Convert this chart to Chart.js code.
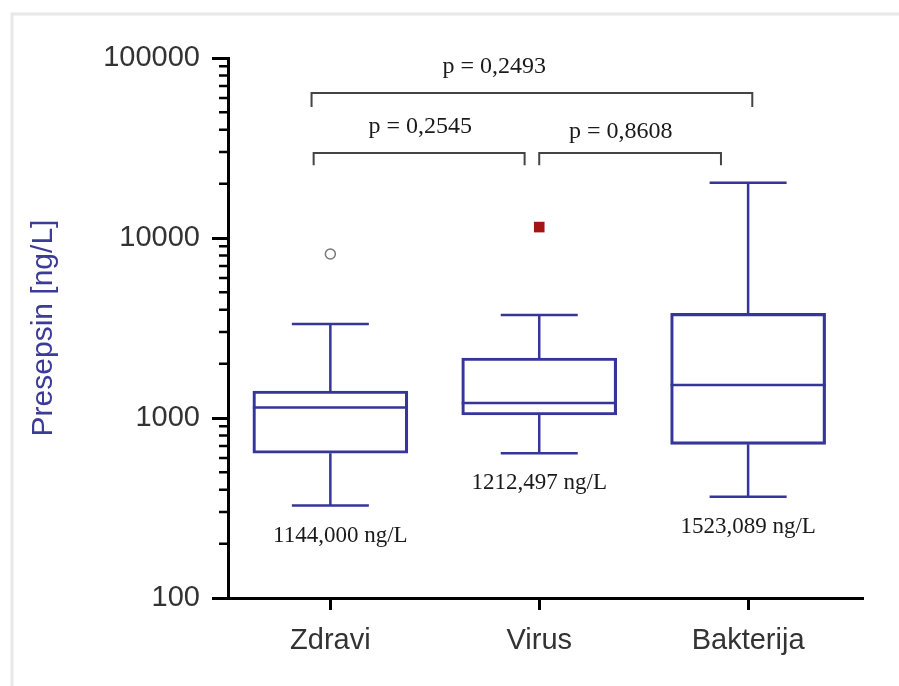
<!DOCTYPE html>
<html lang="sr">

<head>
    <meta charset="UTF-8" />
    <title>Presepsin</title>
    <script src="https://cdn.jsdelivr.net/npm/chart.js"></script>
    <style>
        html, body { margin: 0; padding: 0; background: #fff; }
        #wrap { width: 899px; height: 686px; }
    </style>
</head>

<body>
    <div id="wrap"><canvas id="grafik" width="899" height="686"></canvas></div>

    <script>
        // grupe i kvartili presepsina (ng/L)
        const categories = ['Zdravi', 'Virus', 'Bakterija'];
        const whiskerLow = [326, 637, 365];
        const q1 = [637, 1039, 714];
        const medians = [1144.000, 1212.497, 1523.089];
        const q3 = [1413, 2154, 3816];
        const whiskerHigh = [3327, 3734, 20300];

        // izdvojene vrijednosti: [grupa, vrijednost]
        const outliersOpen = [[0, 8150]];
        const outliersFilled = [[1, 11500]];

        const decadeTicks = [100, 1000, 10000, 100000];

        // p vrijednosti i zagrade iznad grupa
        const pValues = ['0,2493', '0,2545', '0,8608'];
        const bracketFrom = [-0.09, -0.08, 1.0];
        const bracketTo = [2.02, 0.93, 1.87];
        const bracketTop = [63900, 29700, 29700];
        const bracketFoot = [53400, 25400, 25400];
        const pLabelAt = [0.785, 0.43, 1.39];

        const boxColor = '#35359a';
        const axisFont = 'Liberation Sans, Arial, sans-serif';
        const serifFont = 'Liberation Serif, Times New Roman, serif';

        const minorTicks = [];
        for (let d = 100; d < 100000; d *= 10) {
            for (let m = 2; m <= 9; m++) minorTicks.push(d * m);
        }

        const bracketSets = pValues.map((p, i) => ({
            type: 'line',
            data: [
                { x: bracketFrom[i], y: bracketFoot[i] },
                { x: bracketFrom[i], y: bracketTop[i] },
                { x: bracketTo[i], y: bracketTop[i] },
                { x: bracketTo[i], y: bracketFoot[i] }
            ],
            borderColor: '#444',
            borderWidth: 2,
            pointRadius: 0,
            fill: false,
            tension: 0
        }));

        const boxPlugin = {
            id: 'boxDetalji',
            beforeDraw(chart) {
                const c = chart.ctx;
                c.save();
                c.strokeStyle = '#e8e8e8';
                c.lineWidth = 3;
                c.beginPath();
                c.moveTo(12, 686);
                c.lineTo(12, 14);
                c.lineTo(899, 14);
                c.stroke();
                c.restore();
            },
            afterDatasetsDraw(chart) {
                const c = chart.ctx;
                const xs = chart.scales.x, ys = chart.scales.y;
                c.save();
                c.strokeStyle = boxColor;
                c.lineWidth = 2.5;
                categories.forEach((cat, i) => {
                    const x = xs.getPixelForValue(i);
                    const half = 155 / 2, cap = 77 / 2;
                    const yMed = ys.getPixelForValue(medians[i]);
                    const yQ1 = ys.getPixelForValue(q1[i]);
                    const yQ3 = ys.getPixelForValue(q3[i]);
                    const yLo = ys.getPixelForValue(whiskerLow[i]);
                    const yHi = ys.getPixelForValue(whiskerHigh[i]);
                    c.beginPath();
                    c.moveTo(x - half, yMed); c.lineTo(x + half, yMed);
                    c.moveTo(x, yQ3); c.lineTo(x, yHi);
                    c.moveTo(x - cap, yHi); c.lineTo(x + cap, yHi);
                    c.moveTo(x, yQ1); c.lineTo(x, yLo);
                    c.moveTo(x - cap, yLo); c.lineTo(x + cap, yLo);
                    c.stroke();

                    c.fillStyle = '#1a1a1a';
                    c.font = '23px ' + serifFont;
                    c.textAlign = 'center';
                    c.textBaseline = 'middle';
                    const txt = medians[i].toFixed(3).replace('.', ',') + ' ng/L';
                    c.fillText(txt, x + (i === 0 ? 10 : 0), yLo + 30);
                });

                // p vrijednosti
                c.fillStyle = '#1a1a1a';
                c.font = '24px ' + serifFont;
                c.textAlign = 'center';
                c.textBaseline = 'alphabetic';
                pValues.forEach((p, i) => {
                    const y = ys.getPixelForValue(bracketTop[i]);
                    c.fillText('p = ' + p, xs.getPixelForValue(pLabelAt[i]), y - (i === 2 ? 15 : 20));
                });

                // sitne podjele na y osi
                c.strokeStyle = '#000';
                c.lineWidth = 2.5;
                c.beginPath();
                minorTicks.forEach(v => {
                    const y = ys.getPixelForValue(v);
                    c.moveTo(xs.left - 9, y);
                    c.lineTo(xs.left, y);
                });
                c.stroke();
                c.restore();
            }
        };

        new Chart(document.getElementById('grafik'), {
            type: 'bar',
            data: {
                datasets: [
                    {
                        data: categories.map((c, i) => ({ x: i, y: [q1[i], q3[i]] })),
                        backgroundColor: 'rgba(255,255,255,0)',
                        borderColor: boxColor,
                        borderWidth: 2.5,
                        borderSkipped: false,
                        barThickness: 155
                    },
                    {
                        type: 'scatter',
                        data: outliersOpen.map(o => ({ x: o[0], y: o[1] })),
                        pointStyle: 'circle',
                        pointRadius: 5,
                        borderColor: '#777',
                        borderWidth: 1.5,
                        backgroundColor: '#fff'
                    },
                    {
                        type: 'scatter',
                        data: outliersFilled.map(o => ({ x: o[0], y: o[1] })),
                        pointStyle: 'rect',
                        pointRadius: 7.5,
                        borderColor: '#a31515',
                        borderWidth: 0,
                        backgroundColor: '#a31515'
                    },
                    ...bracketSets
                ]
            },
            options: {
                responsive: false,
                animation: false,
                layout: { padding: { top: 58, right: 36, bottom: 0, left: 0 } },
                plugins: {
                    legend: { display: false },
                    tooltip: { enabled: false }
                },
                scales: {
                    x: {
                        type: 'linear',
                        offset: false,
                        min: -0.49,
                        max: 2.55,
                        afterBuildTicks: s => { s.ticks = categories.map((c, i) => ({ value: i })); },
                        afterFit: s => { s.height = 88; },
                        ticks: {
                            callback: v => categories[v],
                            color: '#333',
                            font: { family: axisFont, size: 29 },
                            padding: 14,
                            maxRotation: 0
                        },
                        grid: {
                            offset: false,
                            drawOnChartArea: false,
                            tickLength: 12,
                            tickWidth: 3,
                            tickColor: '#000'
                        },
                        border: { display: true, width: 3, color: '#000' }
                    },
                    y: {
                        type: 'logarithmic',
                        min: 100,
                        max: 100000,
                        afterBuildTicks: s => { s.ticks = decadeTicks.map(v => ({ value: v })); },
                        afterFit: s => { s.width = 228; },
                        ticks: {
                            callback: v => String(v),
                            color: '#333',
                            font: { family: axisFont, size: 29 },
                            padding: 12
                        },
                        grid: {
                            drawOnChartArea: false,
                            tickLength: 16,
                            tickWidth: 3,
                            tickColor: '#000'
                        },
                        border: { display: true, width: 3, color: '#000' },
                        title: {
                            display: true,
                            text: 'Presepsin [ng/L]',
                            color: '#3c3c96',
                            font: { family: axisFont, size: 30 },
                            padding: { top: 26, bottom: 0 }
                        }
                    }
                }
            },
            plugins: [boxPlugin]
        });
    </script>
</body>

</html>
